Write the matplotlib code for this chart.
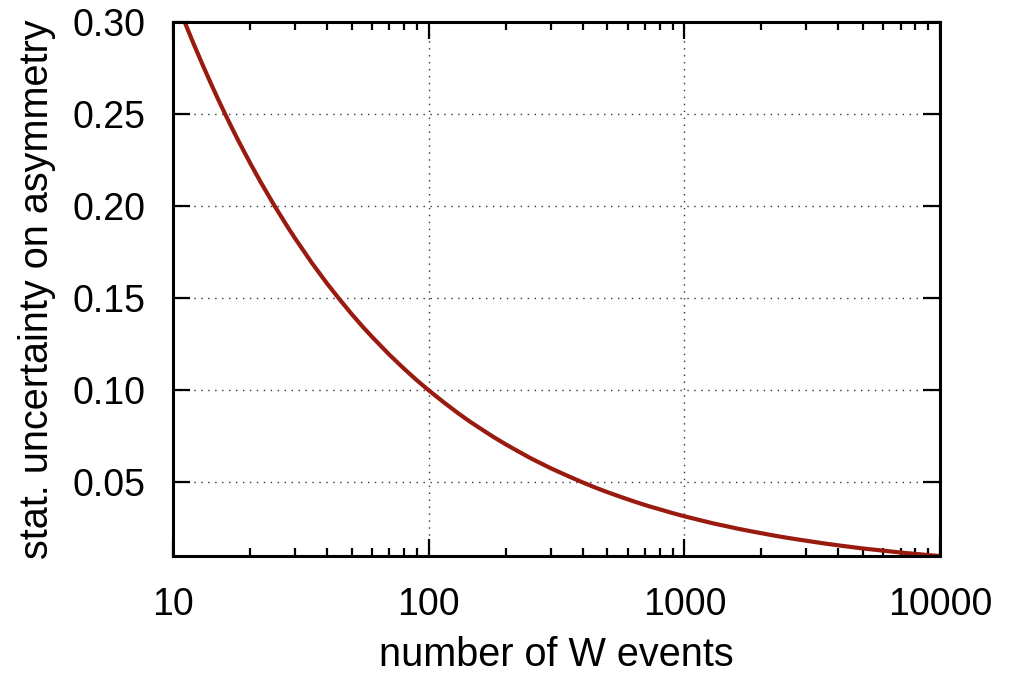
import numpy as np
import matplotlib.pyplot as plt
from matplotlib.ticker import FixedLocator, LogLocator, NullFormatter

plt.rcParams['font.family'] = ['Liberation Sans', 'DejaVu Sans']

# number of W events and the statistical uncertainty
n_events = [11, 12, 13, 14, 15, 16, 17, 18, 20, 22, 25, 28, 30, 35, 40,
            45, 50, 55, 60, 70, 80, 90, 100, 115, 130, 145, 160, 180, 200,
            225, 250, 275, 300, 350, 400, 450, 500, 575, 650, 725, 800,
            900, 1000, 1150, 1300, 1450, 1600, 1800, 2000, 2250, 2500,
            2750, 3000, 3500, 4000, 4500, 5000, 5750, 6500, 7250, 8000,
            9000, 10000]
uncertainty = [0.3015, 0.2887, 0.2774, 0.2673, 0.2582, 0.2500, 0.2425,
               0.2357, 0.2236, 0.2132, 0.2000, 0.1890, 0.1826, 0.1690,
               0.1581, 0.1491, 0.1414, 0.1348, 0.1291, 0.1195, 0.1118,
               0.1054, 0.1000, 0.0933, 0.0877, 0.0830, 0.0791, 0.0745,
               0.0707, 0.0667, 0.0632, 0.0603, 0.0577, 0.0535, 0.0500,
               0.0471, 0.0447, 0.0417, 0.0392, 0.0371, 0.0354, 0.0333,
               0.0316, 0.0295, 0.0277, 0.0263, 0.0250, 0.0236, 0.0224,
               0.0211, 0.0200, 0.0191, 0.0183, 0.0169, 0.0158, 0.0149,
               0.0141, 0.0132, 0.0124, 0.0117, 0.0112, 0.0105, 0.0100]

x_ticks = [10, 100, 1000, 10000]
x_tick_labels = ['10', '100', '1000', '10000']
y_ticks = [0.05, 0.10, 0.15, 0.20, 0.25, 0.30]
y_tick_labels = ['0.05', '0.10', '0.15', '0.20', '0.25', '0.30']

fig = plt.figure(figsize=(10.12, 6.74), dpi=100)
ax = fig.add_axes([0.171, 0.175, 0.758, 0.792])

ax.plot(n_events, uncertainty, color='#991b0f', lw=3.0,
        solid_joinstyle='round', solid_capstyle='butt')

ax.set_xscale('log')
ax.set_xlim(10, 10000)
ax.set_ylim(0.01, 0.30)

ax.xaxis.set_major_locator(FixedLocator(x_ticks))
ax.set_xticklabels(x_tick_labels)
ax.xaxis.set_minor_locator(LogLocator(base=10, subs=np.arange(2, 10)))
ax.xaxis.set_minor_formatter(NullFormatter())
ax.set_yticks(y_ticks)
ax.set_yticklabels(y_tick_labels)

ax.tick_params(which='both', direction='in', top=True, right=True,
               labelsize=27, width=1.6, colors='black')
ax.tick_params(axis='x', which='major', length=12, pad=22)
ax.tick_params(axis='x', which='minor', length=6)
ax.tick_params(axis='y', which='major', length=12, pad=20)

for s in ax.spines.values():
    s.set_linewidth(2.2)

ax.grid(True, which='major', ls=(0, (1, 4)), color='#333333', lw=1.0)

ax.set_xlabel('number of W events', fontsize=28.5, labelpad=10)
ax.set_ylabel('stat. uncertainty on asymmetry', fontsize=28.5, labelpad=12)

fig.savefig('out.png', dpi=100)
